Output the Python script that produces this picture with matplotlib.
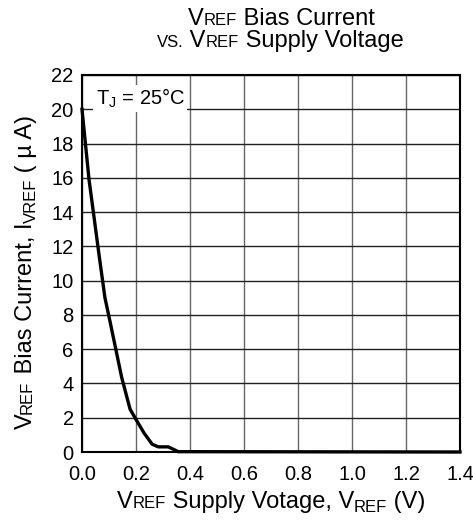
import numpy as np
import matplotlib
matplotlib.use("Agg")
import matplotlib.pyplot as plt
from matplotlib.transforms import IdentityTransform

plt.rcParams['font.family'] = ['Liberation Sans', 'DejaVu Sans']
plt.rcParams['mathtext.fontset'] = 'custom'
plt.rcParams['mathtext.rm'] = 'Liberation Sans'
plt.rcParams['mathtext.it'] = 'Liberation Sans'

# curve
vref = [0.0, 0.026, 0.064, 0.085, 0.104, 0.147, 0.178, 0.2, 0.23, 0.26, 0.283, 0.32, 0.356, 1.4]
ibias = [20.0, 15.9, 11.4, 9.0, 7.6, 4.35, 2.5, 1.9, 1.1, 0.45, 0.3, 0.3, 0.02, 0.0]

xticks = [0.0, 0.2, 0.4, 0.6, 0.8, 1.0, 1.2, 1.4]
yticks = list(range(0, 23, 2))

W, H = 473, 527
fig = plt.figure(figsize=(W / 100, H / 100), dpi=100)
ax = fig.add_axes([82 / W, 1 - 452 / H, 378 / W, 377 / H])

ax.plot(vref, ibias, color='black', lw=2.4, solid_joinstyle='round', zorder=3, clip_on=False)
ax.set_xlim(0, 1.4)
ax.set_ylim(0, 22)
ax.set_xticks(xticks)
ax.set_xticklabels([f"{v:.1f}" for v in xticks])
ax.set_yticks(yticks)
# horizontal lines darker than vertical ones
ax.grid(True, axis='y', color='#222222', lw=1.0)
ax.grid(True, axis='x', color='#666666', lw=1.0)
ax.tick_params(length=0, labelsize=14.5)
ax.tick_params(axis='x', pad=9)
ax.tick_params(axis='y', pad=6)
for s in ax.spines.values():
    s.set_linewidth(1.5)

ax.text(0.05, 20.25, r"T$_\mathregular{J}$ = 25°C", fontsize=14.5, va='baseline',
        bbox=dict(fc='white', ec='none', pad=1.5), zorder=4)

renderer = fig.canvas.get_renderer()


def piece_width(s, size):
    t = fig.text(0, 0, s + "|", fontsize=size)
    w1 = t.get_window_extent(renderer).width
    t.set_text("|")
    w2 = t.get_window_extent(renderer).width
    t.remove()
    return w1 - w2


def rich(x, y, pieces, vertical=False):
    # pieces: (text, size, baseline shift in px); x, y = centre / baseline in pixels from top-left
    widths = [piece_width(s, sz) for s, sz, dy in pieces]
    pos = -sum(widths) / 2
    y = H - y
    for (s, sz, dy), w in zip(pieces, widths):
        if vertical:
            px, py, rot = x - dy, y + pos, 90
        else:
            px, py, rot = x + pos, y + dy, 0
        fig.text(px, py, s, fontsize=sz, transform=IdentityTransform(), ha='left',
                 va='baseline', rotation=rot, rotation_mode='anchor')
        pos += w


big, small = 17, 12
rich(281, 25, [("V", big, 0), ("REF", small, 0), (" Bias Current", big, 0)])
rich(280, 47, [("VS.", small, 0), (" V", big, 0), ("REF", small, 0), (" Supply Voltage", big, 0)])
rich(271, 508, [("V", big, 0), ("REF", small, 0), (" Supply Votage, V", big, 0),
                ("REF", small, -4), (" (V)", big, 0)])
rich(32, 272, [("V", big, 0), ("REF", small, 0), (" Bias Current, I", big, 0),
               ("VREF", small, -4), (" ( µ A)", big, 0)], vertical=True)

fig.savefig("out.png", dpi=100)
